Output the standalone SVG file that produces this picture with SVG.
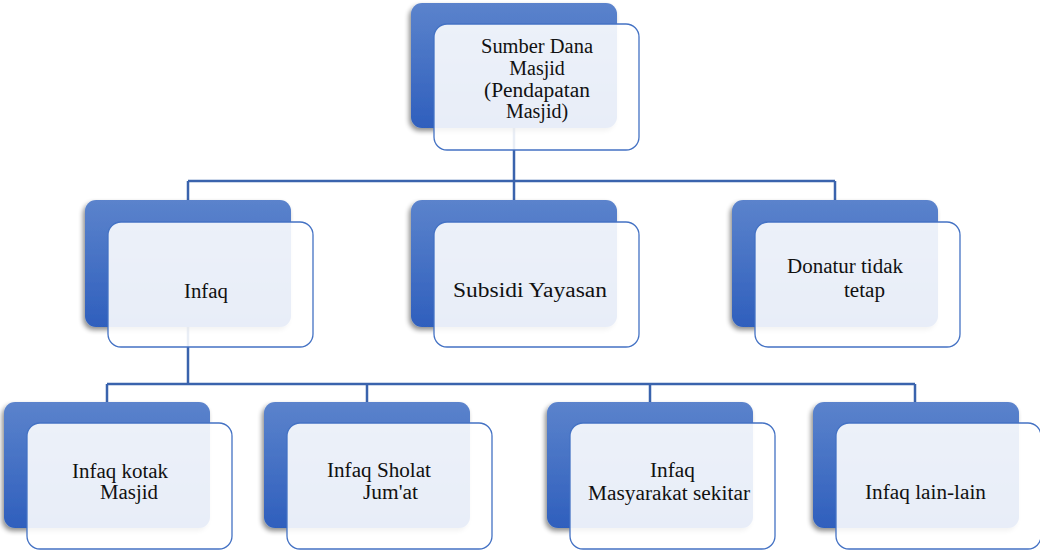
<svg xmlns="http://www.w3.org/2000/svg" width="1040" height="551" viewBox="0 0 1040 551">
<defs>
<linearGradient id="g" x1="0" y1="0" x2="0" y2="1">
<stop offset="0" stop-color="#5b83cc"/>
<stop offset="1" stop-color="#2f5fbd"/>
</linearGradient>
<filter id="sh" x="-10%" y="-10%" width="120%" height="125%">
<feGaussianBlur in="SourceAlpha" stdDeviation="2.5"/>
<feOffset dx="-2" dy="3" result="b"/>
<feComponentTransfer><feFuncA type="linear" slope="0.45"/></feComponentTransfer>
<feMerge><feMergeNode/><feMergeNode in="SourceGraphic"/></feMerge>
</filter>
</defs>
<style>
.back{fill:url(#g);filter:url(#sh)}
.front{fill:#ffffff;fill-opacity:0.89;stroke:#4472c4;stroke-width:1.3}
.t{font-family:'Liberation Serif','DejaVu Serif',serif;font-size:20px;fill:#111}
.c{fill:none;stroke:#3a63ad;stroke-width:2.5}
</style>
<rect width="1040" height="551" fill="#ffffff"/>
<g id="connectors">
<path class="c" d="M514,128V181M188,181H835M188,181V200M514,181V200M835,181V200"/>
<path class="c" d="M188,327V384M107,384H915M107,384V402M367,384V402M650,384V402M915,384V402"/>
</g>
<g id="n-top">
<rect class="back" x="411" y="3" width="206" height="125" rx="11"/>
<rect class="front" x="434" y="24" width="205" height="126" rx="13"/>
<text class="t" font-family="Liberation Serif, serif" text-anchor="middle" x="537" y="53" textLength="112" lengthAdjust="spacingAndGlyphs">Sumber Dana</text>
<text class="t" font-family="Liberation Serif, serif" text-anchor="middle" x="537" y="75">Masjid</text>
<text class="t" font-family="Liberation Serif, serif" text-anchor="middle" x="537" y="97" textLength="106" lengthAdjust="spacingAndGlyphs">(Pendapatan</text>
<text class="t" font-family="Liberation Serif, serif" text-anchor="middle" x="537" y="118">Masjid)</text>
</g>
<g id="n-infaq">
<rect class="back" x="85" y="200" width="206" height="127" rx="11"/>
<rect class="front" x="108" y="222" width="205" height="125" rx="13"/>
<text class="t" font-family="Liberation Serif, serif" text-anchor="middle" x="206" y="298" textLength="44" lengthAdjust="spacingAndGlyphs">Infaq</text>
</g>
<g id="n-subsidi">
<rect class="back" x="411" y="200" width="206" height="127" rx="11"/>
<rect class="front" x="434" y="222" width="205" height="125" rx="13"/>
<text class="t" font-family="Liberation Serif, serif" x="453" y="297" textLength="154" lengthAdjust="spacingAndGlyphs">Subsidi Yayasan</text>
</g>
<g id="n-donatur">
<rect class="back" x="732" y="200" width="206" height="127" rx="11"/>
<rect class="front" x="755" y="222" width="205" height="125" rx="13"/>
<text class="t" font-family="Liberation Serif, serif" x="787" y="273" textLength="116" lengthAdjust="spacingAndGlyphs">Donatur tidak</text>
<text class="t" font-family="Liberation Serif, serif" x="844" y="297" textLength="41" lengthAdjust="spacingAndGlyphs">tetap</text>
</g>
<g id="n-kotak">
<rect class="back" x="4" y="402" width="206" height="126" rx="11"/>
<rect class="front" x="27" y="423" width="205" height="126" rx="13"/>
<text class="t" font-family="Liberation Serif, serif" x="72" y="478" textLength="96" lengthAdjust="spacingAndGlyphs">Infaq kotak</text>
<text class="t" font-family="Liberation Serif, serif" x="100" y="499" textLength="58" lengthAdjust="spacingAndGlyphs">Masjid</text>
</g>
<g id="n-sholat">
<rect class="back" x="264" y="402" width="206" height="126" rx="11"/>
<rect class="front" x="287" y="423" width="205" height="126" rx="13"/>
<text class="t" font-family="Liberation Serif, serif" x="327" y="477" textLength="104" lengthAdjust="spacingAndGlyphs">Infaq Sholat</text>
<text class="t" font-family="Liberation Serif, serif" x="363" y="499" textLength="55" lengthAdjust="spacingAndGlyphs">Jum'at</text>
</g>
<g id="n-masyarakat">
<rect class="back" x="547" y="402" width="206" height="126" rx="11"/>
<rect class="front" x="570" y="423" width="205" height="126" rx="13"/>
<text class="t" font-family="Liberation Serif, serif" x="650" y="477" textLength="45" lengthAdjust="spacingAndGlyphs">Infaq</text>
<text class="t" font-family="Liberation Serif, serif" x="588" y="500" textLength="162" lengthAdjust="spacingAndGlyphs">Masyarakat sekitar</text>
</g>
<g id="n-lain">
<rect class="back" x="813" y="402" width="206" height="126" rx="11"/>
<rect class="front" x="836" y="423" width="205" height="126" rx="13"/>
<text class="t" font-family="Liberation Serif, serif" x="865" y="499" textLength="121" lengthAdjust="spacingAndGlyphs">Infaq lain-lain</text>
</g>
</svg>
